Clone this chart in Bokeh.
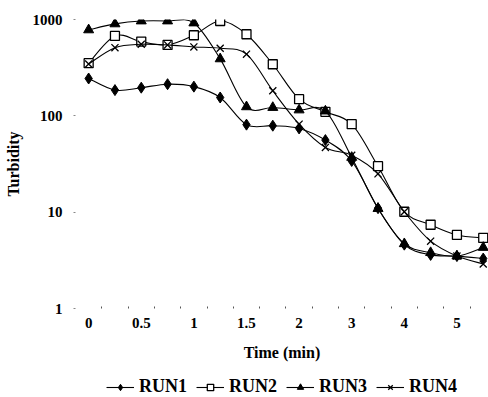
import numpy as np
from bokeh.plotting import figure
from bokeh.layouts import column
from bokeh.models import FixedTicker, Legend, LegendItem, ColumnDataSource
from bokeh.embed import file_html
from bokeh.resources import INLINE

# ---- data ----
times = ["0", "0.25", "0.5", "0.75", "1", "1.25", "1.5", "1.75", "2", "2.5",
         "3", "3.5", "4", "4.5", "5", "5.5"]
run1 = [244, 185, 196, 213, 201, 155, 81, 79, 74, 56, 34, 11, 4.6, 3.6, 3.5, 3.3]
run2 = [352, 675, 590, 545, 686, 965, 703, 343, 149, 110, 82, 30, 10.1, 7.4, 5.8, 5.4]
run3 = [780, 900, 965, 965, 920, 390, 124, 122, 115, 112, 37, 10.9, 4.7, 3.8, 3.5, 4.3]
run4 = [345, 510, 553, 545, 519, 503, 437, 182, 82, 47, 39, 25, 10.1, 5.0, 3.5, 2.9]
series_names = ["RUN1", "RUN2", "RUN3", "RUN4"]
y_ticks = [1, 10, 100, 1000]

FONT = "Liberation Serif"
LW = 1.1

p = figure(width=488, height=366, y_axis_type="log",
           x_range=(-0.5, 15.2), y_range=(1, 1000),
           output_backend="svg", toolbar_location=None,
           min_border_left=75, min_border_right=0, min_border_top=19,
           min_border_bottom=58)
p.outline_line_color = None
p.grid.visible = False
p.background_fill_color = "white"
p.border_fill_color = "white"

n = len(times)
xs = list(range(n))

p.xaxis.ticker = FixedTicker(ticks=xs[::2], minor_ticks=[i + 0.5 for i in xs[:-1]])
p.xaxis.major_label_overrides = {i: times[i] for i in xs[::2]}
p.xaxis.axis_line_color = None
p.xaxis.major_tick_line_color = None
p.xaxis.minor_tick_line_color = "#555555"
p.xaxis.minor_tick_in = 2
p.xaxis.minor_tick_out = 0
p.xaxis.major_label_standoff = 3
p.xaxis.axis_label = "Time (min)"
p.xaxis.axis_label_standoff = 13

p.yaxis.ticker = FixedTicker(ticks=y_ticks, minor_ticks=[])
p.yaxis.major_label_overrides = {v: str(v) for v in y_ticks}
p.yaxis.axis_line_color = None
p.yaxis.major_tick_line_color = "#888888"
p.yaxis.major_tick_in = 0
p.yaxis.major_tick_out = 2
p.yaxis.major_label_standoff = 11
p.yaxis.axis_label = "Turbidity"
p.yaxis.axis_label_standoff = 8

for ax in (p.xaxis[0], p.yaxis[0]):
    ax.major_label_text_font = FONT
    ax.major_label_text_font_style = "bold"
    ax.major_label_text_font_size = "15px"
    ax.major_label_text_color = "black"
    ax.axis_label_text_font = FONT
    ax.axis_label_text_font_style = "bold"
    ax.axis_label_text_font_size = "16px"
    ax.axis_label_text_color = "black"


def smooth_segments(vals):
    ly = np.log10(np.array(vals, dtype=float))
    x = np.arange(len(vals), dtype=float)
    px = np.concatenate([[x[0]], x, [x[-1]]])
    py = np.concatenate([[ly[0]], ly, [ly[-1]]])
    d = dict(x0=[], y0=[], x1=[], y1=[], cx0=[], cy0=[], cx1=[], cy1=[])
    for i in range(len(vals) - 1):
        j = i + 1
        d["x0"].append(px[j]); d["y0"].append(10 ** py[j])
        d["x1"].append(px[j + 1]); d["y1"].append(10 ** py[j + 1])
        d["cx0"].append(px[j] + (px[j + 1] - px[j - 1]) / 6)
        d["cy0"].append(10 ** (py[j] + (py[j + 1] - py[j - 1]) / 6))
        d["cx1"].append(px[j + 1] - (px[j + 2] - px[j]) / 6)
        d["cy1"].append(10 ** (py[j + 1] - (py[j + 2] - py[j]) / 6))
    return ColumnDataSource(d)


markers = [
    dict(marker="diamond", size=11, fill_color="black", line_color="black"),
    dict(marker="square", size=9, fill_color="white", line_color="black", line_width=1.3),
    dict(marker="triangle", size=10, fill_color="black", line_color="black"),
    dict(marker="x", size=10, line_color="black", line_width=1.3),
]

for name, vals, mk in zip(series_names, [run1, run2, run3, run4], markers):
    src = smooth_segments(vals)
    p.bezier(x0="x0", y0="y0", x1="x1", y1="y1", cx0="cx0", cy0="cy0",
             cx1="cx1", cy1="cy1", source=src, line_color="black", line_width=LW)
    p.scatter(xs, vals, **mk)

# ---- legend strip ----
p2 = figure(width=488, height=31, x_range=(0, 1), y_range=(0, 1),
            output_backend="svg", toolbar_location=None,
            min_border_left=0, min_border_right=0, min_border_top=0,
            min_border_bottom=0)
p2.axis.visible = False
p2.grid.visible = False
p2.outline_line_color = None
p2.background_fill_color = "white"
p2.border_fill_color = "white"

items = []
for name, mk in zip(series_names, markers):
    lr = p2.line(x=[5, 6], y=[5, 5], line_color="black", line_width=LW)
    sr = p2.scatter(x=[5], y=[5], **{k: v for k, v in mk.items() if k != "size"},
                    size=mk["size"] - 2)
    items.append(LegendItem(label=name, renderers=[lr, sr]))

legend = Legend(items=items, orientation="horizontal",
                border_line_color=None, background_fill_alpha=0,
                label_text_font=FONT, label_text_font_style="bold",
                label_text_font_size="18px", label_text_color="black",
                glyph_width=28, glyph_height=16, label_standoff=5, spacing=9,
                padding=0, margin=0, location=(31, 0))
p2.add_layout(legend)

layout = column(p, p2, spacing=0)
open("out.html", "w").write(file_html(layout, INLINE))
